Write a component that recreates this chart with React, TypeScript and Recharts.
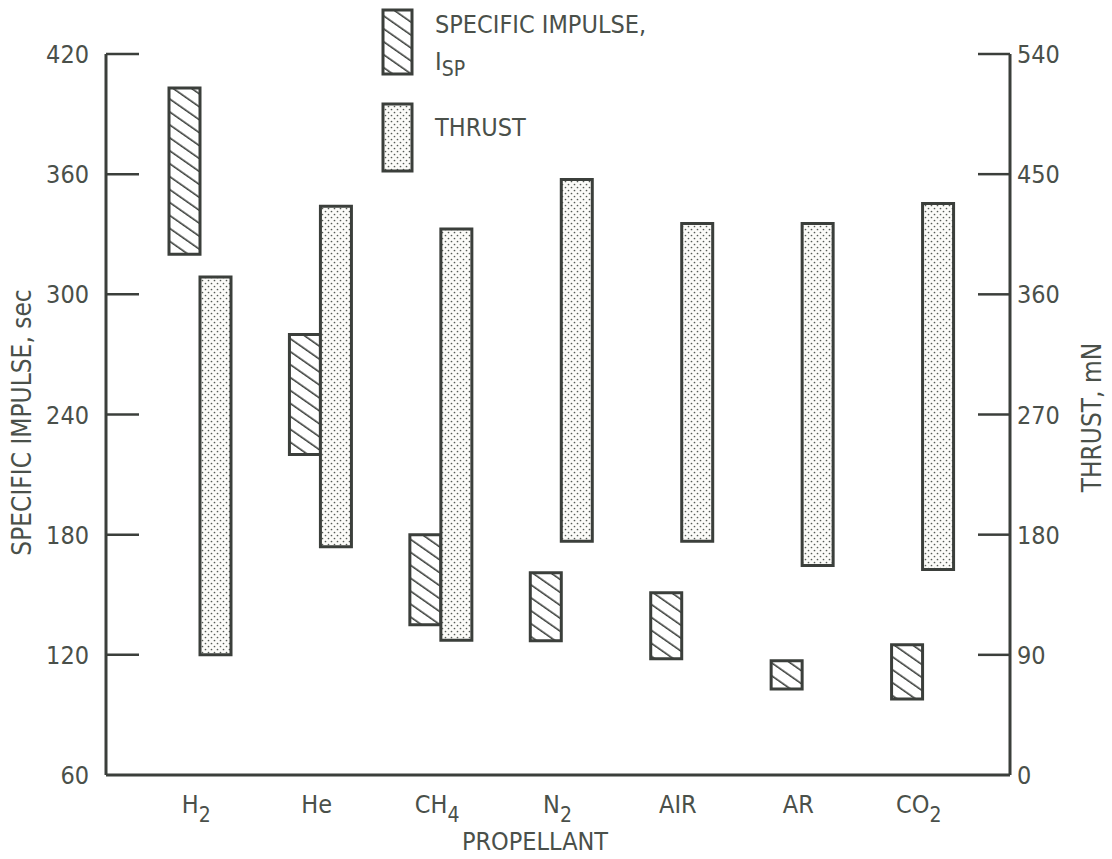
import { BarChart, Bar, XAxis, YAxis, Label } from "recharts";

const PROPELLANTS = ["H2", "He", "CH4", "N2", "AIR", "AR", "CO2"];
const ISP_RANGE: [number, number][] = [
  [320, 403], [220, 280], [135, 180], [127, 161], [118, 151], [103, 117], [98, 125],
];
const THRUST_RANGE: [number, number][] = [
  [90, 373], [171, 426], [101, 409], [175, 446], [175, 413], [157, 413], [154, 428],
];
const ISP_TICKS = [60, 120, 180, 240, 300, 360, 420];
const THRUST_TICKS = [0, 90, 180, 270, 360, 450, 540];

const FONT = "'Liberation Sans Narrow', 'DejaVu Sans Condensed', 'Roboto Condensed', 'Liberation Sans', sans-serif";
const INK = "#3b3f3b";
const TEXT = "#4a504a";

const data = PROPELLANTS.map((name, i) => ({
  name,
  isp: ISP_RANGE[i],
  thrust: THRUST_RANGE[i],
}));

function splitFormula(name: string) {
  const m = name.match(/^(.*?)(\d*)$/);
  return { base: m ? m[1] : name, sub: m ? m[2] : "" };
}

function CategoryTick(props: any) {
  const { x, y, payload } = props;
  const { base, sub } = splitFormula(String(payload.value));
  return (
    <text x={x - 4} y={y + 38} textAnchor="middle" fill={TEXT} fontSize={25} fontFamily={FONT}>
      {base}
      {sub && (
        <tspan fontSize={21} dy={9}>
          {sub}
        </tspan>
      )}
    </text>
  );
}

function LeftTick(props: any) {
  const { x, y, payload } = props;
  const axisX = x + 17;
  return (
    <g>
      {payload.value !== 60 && (
        <line x1={axisX} x2={axisX + 33} y1={y} y2={y} stroke={INK} strokeWidth={2.5} />
      )}
      <text x={x} y={y + 9} textAnchor="end" fill={TEXT} fontSize={25} fontFamily={FONT}>
        {payload.value}
      </text>
    </g>
  );
}

function RightTick(props: any) {
  const { x, y, payload } = props;
  const axisX = x - 7;
  return (
    <g>
      {payload.value !== 0 && (
        <line x1={axisX} x2={axisX - 32} y1={y} y2={y} stroke={INK} strokeWidth={2.5} />
      )}
      <text x={x} y={y + 9} textAnchor="start" fill={TEXT} fontSize={25} fontFamily={FONT}>
        {payload.value}
      </text>
    </g>
  );
}

function VerticalTitle({ cx, cy, text }: { cx: number; cy: number; text: string }) {
  return (
    <text
      x={cx}
      y={cy}
      transform={`rotate(-90, ${cx}, ${cy})`}
      textAnchor="middle"
      dominantBaseline="central"
      fill={TEXT}
      fontSize={26}
      fontFamily={FONT}
    >
      {text}
    </text>
  );
}

function Patterns() {
  return (
    <svg width={0} height={0} style={{ position: "absolute" }}>
      <defs>
        <pattern id="hatch" width={10} height={10.6} patternUnits="userSpaceOnUse" patternTransform="rotate(35)">
          <rect width={10} height={10.6} fill="#fff" />
          <line x1={0} x2={10} y1={5} y2={5} stroke={INK} strokeWidth={1.6} />
        </pattern>
        <pattern id="dots" width={6} height={6} patternUnits="userSpaceOnUse">
          <rect width={6} height={6} fill="#fbfbf8" />
          <circle cx={1.5} cy={1.5} r={0.85} fill="#555a55" />
          <circle cx={4.5} cy={4.5} r={0.85} fill="#555a55" />
        </pattern>
      </defs>
    </svg>
  );
}

function ChartLegend() {
  return (
    <svg width={1112} height={180} style={{ position: "absolute", left: 0, top: 0, pointerEvents: "none" }}>
      <rect x={383} y={10} width={29} height={64} fill="url(#hatch)" stroke={INK} strokeWidth={3} />
      <text x={435} y={33} fill={TEXT} fontSize={25} fontFamily={FONT}>
        SPECIFIC IMPULSE,
      </text>
      <text x={435} y={70} fill={TEXT} fontSize={25} fontFamily={FONT}>
        I
        <tspan fontSize={21} dy={6}>
          SP
        </tspan>
      </text>
      <rect x={383} y={104} width={29} height={67} fill="url(#dots)" stroke={INK} strokeWidth={3} />
      <text x={435} y={136} fill={TEXT} fontSize={25} fontFamily={FONT}>
        THRUST
      </text>
    </svg>
  );
}

export default function App() {
  return (
    <div style={{ position: "absolute", left: 0, top: 0, width: 1112, height: 859, background: "#fff" }}>
      <Patterns />
      <BarChart
        width={1112}
        height={859}
        data={data}
        margin={{ top: 54, right: 0, bottom: 6, left: 0 }}
        barGap={0}
        barSize={31}
      >
        <XAxis
          dataKey="name"
          height={78}
          padding={{ left: 34, right: 27 }}
          axisLine={{ stroke: INK, strokeWidth: 3 }}
          tickLine={false}
          tickSize={0}
          tickMargin={0}
          tick={<CategoryTick />}
          interval={0}
        >
          <Label
            content={(p: any) => (
              <text
                x={p.viewBox.x + p.viewBox.width / 2 - 23}
                y={p.viewBox.y + 75}
                textAnchor="middle"
                fill={TEXT}
                fontSize={25}
                fontFamily={FONT}
              >
                PROPELLANT
              </text>
            )}
          />
        </XAxis>
        <YAxis
          yAxisId="isp"
          orientation="left"
          width={106}
          domain={[60, 420]}
          ticks={ISP_TICKS}
          axisLine={{ stroke: INK, strokeWidth: 3 }}
          tickLine={false}
          tickSize={0}
          tickMargin={17}
          tick={<LeftTick />}
          interval={0}
        >
          <Label
            content={(p: any) => (
              <VerticalTitle cx={p.viewBox.x + 22} cy={p.viewBox.y + p.viewBox.height / 2 + 8} text="SPECIFIC IMPULSE, sec" />
            )}
          />
        </YAxis>
        <YAxis
          yAxisId="thrust"
          orientation="right"
          width={102}
          domain={[0, 540]}
          ticks={THRUST_TICKS}
          axisLine={{ stroke: INK, strokeWidth: 3 }}
          tickLine={false}
          tickSize={0}
          tickMargin={7}
          tick={<RightTick />}
          interval={0}
        >
          <Label
            content={(p: any) => (
              <VerticalTitle cx={p.viewBox.x + 82} cy={p.viewBox.y + p.viewBox.height / 2 + 3} text="THRUST, mN" />
            )}
          />
        </YAxis>
        <Bar
          yAxisId="isp"
          dataKey="isp"
          fill="url(#hatch)"
          stroke={INK}
          strokeWidth={3}
          isAnimationActive={false}
        />
        <Bar
          yAxisId="thrust"
          dataKey="thrust"
          fill="url(#dots)"
          stroke={INK}
          strokeWidth={3}
          isAnimationActive={false}
        />
      </BarChart>
      <ChartLegend />
    </div>
  );
}
